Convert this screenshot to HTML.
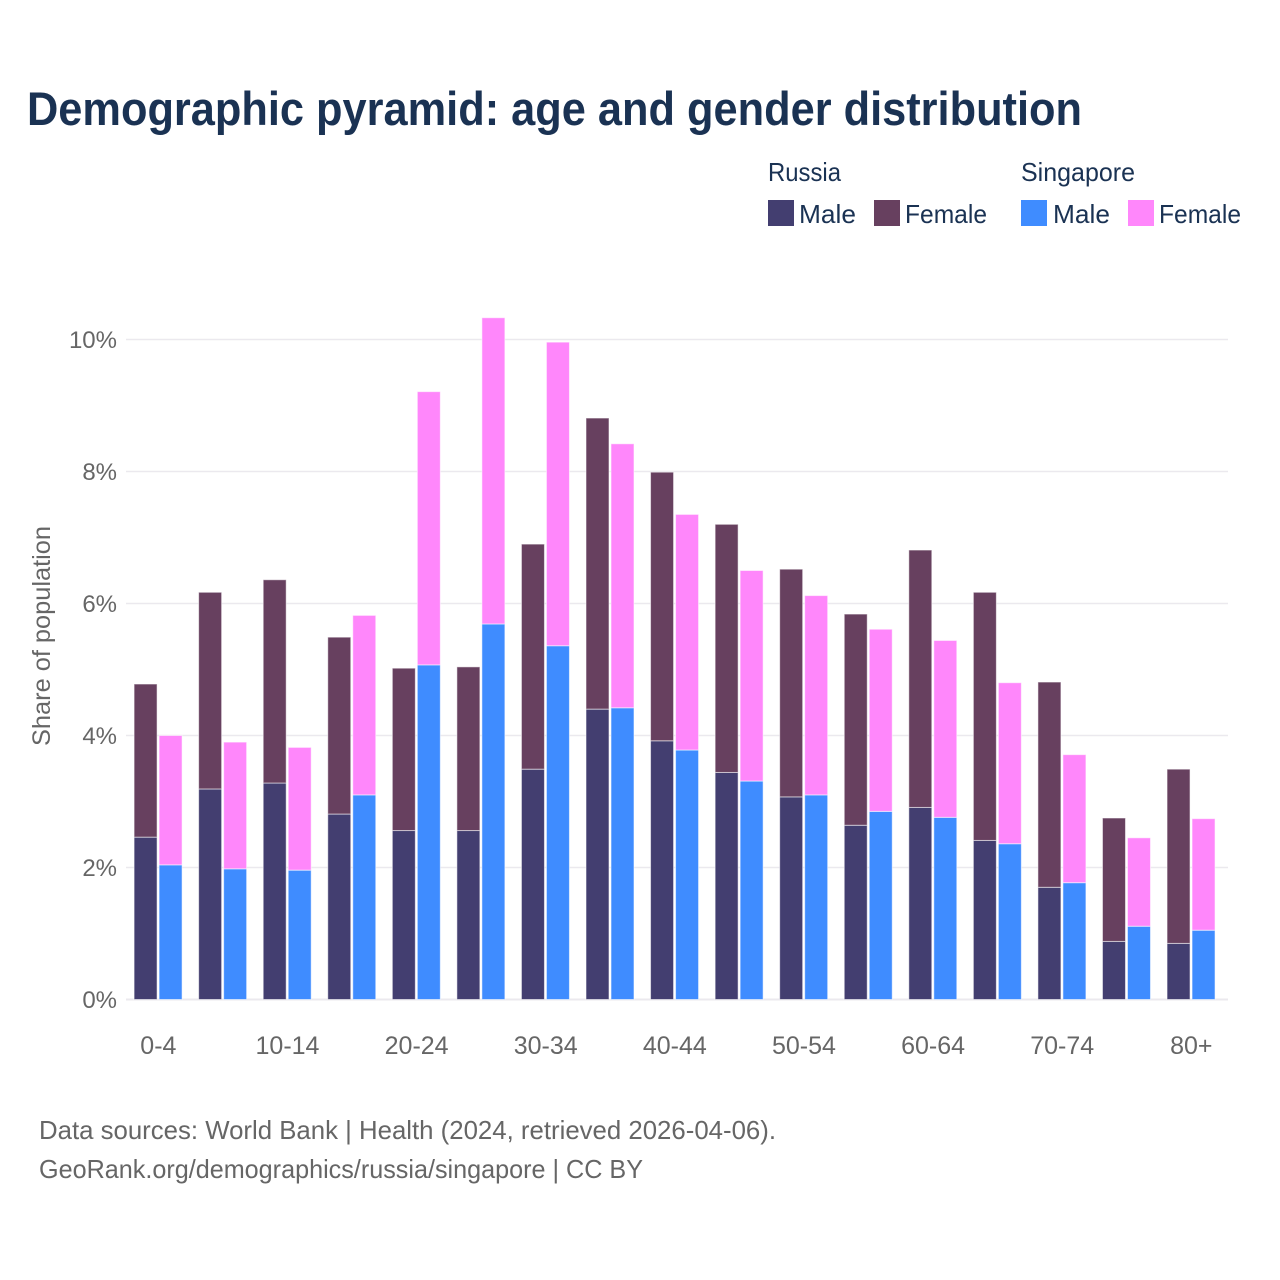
<!DOCTYPE html>
<html lang="en">
<head>
<meta charset="utf-8">
<title>Demographic pyramid: age and gender distribution</title>
<style>
html,body{margin:0;padding:0;background:#fff;}
svg{display:block;font-family:"Liberation Sans",sans-serif;}
.t{fill:#1a3253;}
.m{fill:#666666;}
</style>
</head>
<body>
<svg id="chart" xmlns="http://www.w3.org/2000/svg" width="1280" height="1280" viewBox="0 0 1280 1280">
  <rect width="1280" height="1280" fill="#ffffff"/>
  <text class="t" x="27" y="125" font-size="47" font-weight="700" textLength="1055" lengthAdjust="spacingAndGlyphs">Demographic pyramid: age and gender distribution</text>

  <g>
    <text class="t" x="768" y="181" font-size="26" textLength="73" lengthAdjust="spacingAndGlyphs">Russia</text>
    <text class="t" x="1021" y="181" font-size="26" textLength="114" lengthAdjust="spacingAndGlyphs">Singapore</text>
    <rect x="768" y="200" width="26" height="26" fill="#433e70"/>
    <text class="t" x="799" y="223" font-size="26" textLength="57" lengthAdjust="spacingAndGlyphs">Male</text>
    <rect x="874" y="200" width="26" height="26" fill="#67405f"/>
    <text class="t" x="905" y="223" font-size="26" textLength="82" lengthAdjust="spacingAndGlyphs">Female</text>
    <rect x="1021" y="200" width="26" height="26" fill="#3f8cff"/>
    <text class="t" x="1053" y="223" font-size="26" textLength="57" lengthAdjust="spacingAndGlyphs">Male</text>
    <rect x="1128" y="200" width="26" height="26" fill="#ff87fb"/>
    <text class="t" x="1159" y="223" font-size="26" textLength="82" lengthAdjust="spacingAndGlyphs">Female</text>
  </g>

  <g id="grid"></g>
  <g id="yticks"></g>
  <g id="bars"></g>
  <g id="xticks"></g>

  <text class="m" transform="translate(50,636) rotate(-90)" text-anchor="middle" font-size="25" textLength="220" lengthAdjust="spacingAndGlyphs">Share of population</text>

  <text class="m" x="39" y="1139" font-size="26" textLength="737" lengthAdjust="spacingAndGlyphs">Data sources: World Bank | Health (2024, retrieved 2026-04-06).</text>
  <text class="m" x="39" y="1178" font-size="26" textLength="604" lengthAdjust="spacingAndGlyphs">GeoRank.org/demographics/russia/singapore | CC BY</text>
</svg>
<script>
const categories = ["0-4","5-9","10-14","15-19","20-24","25-29","30-34","35-39","40-44","45-49","50-54","55-59","60-64","65-69","70-74","75-79","80+"];
const russiaMale = [2.46,3.19,3.28,2.81,2.56,2.56,3.49,4.40,3.92,3.44,3.07,2.64,2.91,2.41,1.70,0.88,0.85];
const russiaFemale = [2.32,2.98,3.08,2.68,2.46,2.48,3.41,4.41,4.07,3.76,3.45,3.20,3.90,3.76,3.11,1.87,2.64];
const singaporeMale = [2.04,1.98,1.96,3.10,5.07,5.69,5.36,4.42,3.78,3.31,3.10,2.85,2.76,2.36,1.77,1.11,1.05];
const singaporeFemale = [1.96,1.92,1.86,2.72,4.14,4.64,4.60,4.00,3.57,3.19,3.02,2.76,2.68,2.44,1.94,1.34,1.69];
const yTicks = [0,2,4,6,8,10];

const NS = "http://www.w3.org/2000/svg";
const y0 = 999.5, pxPerUnit = 66;
const x0 = 126.1, band = 64.56;
const barW = 23, barStep = 24.6;
function yScale(v){ return y0 - v * pxPerUnit; }
function xCenter(i){ return x0 + band * (i + 0.5); }

const grid = document.getElementById("grid");
const yt = document.getElementById("yticks");
yTicks.forEach(function(t){
  const l = document.createElementNS(NS, "line");
  
  
  l.setAttribute("x1", 126);
  l.setAttribute("x2", 1228);
  l.setAttribute("y1", yScale(t));
  l.setAttribute("y2", yScale(t));
  l.setAttribute("stroke", "#ebe9ee");
  l.setAttribute("stroke-width", t === 0 ? 2 : 1.4);
  grid.appendChild(l);
  const s = document.createElementNS(NS, "text");
  
  
  s.setAttribute("class", "m");
  s.setAttribute("x", 117);
  s.setAttribute("y", yScale(t) + 8.5);
  s.setAttribute("text-anchor", "end");
  s.setAttribute("font-size", 24);
  s.textContent = t + "%";
  yt.appendChild(s);
});

const bars = document.getElementById("bars");
function addBar(x, base, value, fill){
  const r = document.createElementNS(NS, "rect");
  
  
  r.setAttribute("x", x);
  r.setAttribute("y", yScale(base + value));
  r.setAttribute("width", barW);
  r.setAttribute("height", value * pxPerUnit);
  r.setAttribute("fill", fill);
  r.setAttribute("stroke", "#ffffff");
  r.setAttribute("stroke-opacity", "0.55");
  r.setAttribute("stroke-width", "1");
  bars.appendChild(r);
}
categories.forEach(function(c, i){
  const cx = xCenter(i);
  const xa = cx - barStep + 0.3, xb = cx + 0.7;
  addBar(xa, 0, russiaMale[i], "#433e70");
  addBar(xa, russiaMale[i], russiaFemale[i], "#67405f");
  addBar(xb, 0, singaporeMale[i], "#3f8cff");
  addBar(xb, singaporeMale[i], singaporeFemale[i], "#ff87fb");
});

const xt = document.getElementById("xticks");
categories.forEach(function(c, i){
  if (i % 2 !== 0) return;
  const s = document.createElementNS(NS, "text");
  
  
  s.setAttribute("class", "m");
  s.setAttribute("x", xCenter(i));
  s.setAttribute("y", 1054);
  s.setAttribute("text-anchor", "middle");
  s.setAttribute("font-size", 25);
  s.textContent = c;
  xt.appendChild(s);
});
</script>
</body>
</html>
